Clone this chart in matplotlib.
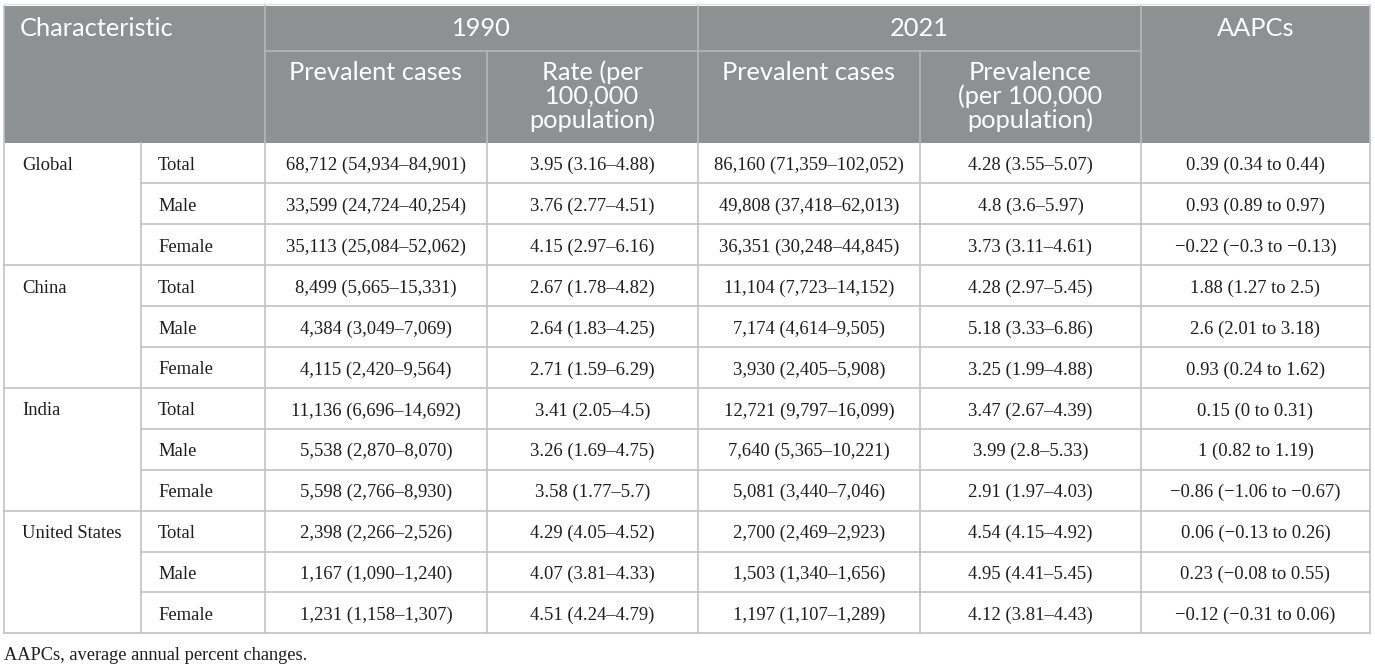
import matplotlib
matplotlib.use("Agg")
import matplotlib.pyplot as plt

countries = ["Global", "China", "India", "United States"]
sexes = ["Total", "Male", "Female"]

cases_1990 = [
    "68,712 (54,934–84,901)", "33,599 (24,724–40,254)", "35,113 (25,084–52,062)",
    "8,499 (5,665–15,331)", "4,384 (3,049–7,069)", "4,115 (2,420–9,564)",
    "11,136 (6,696–14,692)", "5,538 (2,870–8,070)", "5,598 (2,766–8,930)",
    "2,398 (2,266–2,526)", "1,167 (1,090–1,240)", "1,231 (1,158–1,307)",
]
rate_1990 = [
    "3.95 (3.16–4.88)", "3.76 (2.77–4.51)", "4.15 (2.97–6.16)",
    "2.67 (1.78–4.82)", "2.64 (1.83–4.25)", "2.71 (1.59–6.29)",
    "3.41 (2.05–4.5)", "3.26 (1.69–4.75)", "3.58 (1.77–5.7)",
    "4.29 (4.05–4.52)", "4.07 (3.81–4.33)", "4.51 (4.24–4.79)",
]
cases_2021 = [
    "86,160 (71,359–102,052)", "49,808 (37,418–62,013)", "36,351 (30,248–44,845)",
    "11,104 (7,723–14,152)", "7,174 (4,614–9,505)", "3,930 (2,405–5,908)",
    "12,721 (9,797–16,099)", "7,640 (5,365–10,221)", "5,081 (3,440–7,046)",
    "2,700 (2,469–2,923)", "1,503 (1,340–1,656)", "1,197 (1,107–1,289)",
]
prev_2021 = [
    "4.28 (3.55–5.07)", "4.8 (3.6–5.97)", "3.73 (3.11–4.61)",
    "4.28 (2.97–5.45)", "5.18 (3.33–6.86)", "3.25 (1.99–4.88)",
    "3.47 (2.67–4.39)", "3.99 (2.8–5.33)", "2.91 (1.97–4.03)",
    "4.54 (4.15–4.92)", "4.95 (4.41–5.45)", "4.12 (3.81–4.43)",
]
aapcs = [
    "0.39 (0.34 to 0.44)", "0.93 (0.89 to 0.97)", "−0.22 (−0.3 to −0.13)",
    "1.88 (1.27 to 2.5)", "2.6 (2.01 to 3.18)", "0.93 (0.24 to 1.62)",
    "0.15 (0 to 0.31)", "1 (0.82 to 1.19)", "−0.86 (−1.06 to −0.67)",
    "0.06 (−0.13 to 0.26)", "0.23 (−0.08 to 0.55)", "−0.12 (−0.31 to 0.06)",
]
year_headers = ["1990", "2021"]
sub_headers = [["Prevalent cases"],
               ["Rate (per", "100,000", "population)"],
               ["Prevalent cases"],
               ["Prevalence", "(per 100,000", "population)"]]
footnote = "AAPCs, average annual percent changes."

W, H = 1375, 667
fig = plt.figure(figsize=(W / 100, H / 100), dpi=100)
ax = fig.add_axes([0, 0, 1, 1])
ax.set_xlim(0, W)
ax.set_ylim(H, 0)
ax.axis("off")

# layout
xs = [4, 141, 265, 487, 698, 920, 1141, 1370]
top = 6
split = 51
hbot = 142.5
row_h = 40.9
nrows = 12
bottom = hbot + row_h * nrows

HEAD = "#8d9192"
HLINE = "#b5b8b9"
LINE = "#c2c2c2"
TXT = "#1e1e1e"
head_font = ["Lato", "DejaVu Sans"]
body_font = ["Liberation Serif", "DejaVu Serif"]
hs = 18.3
bs = 13.4

# header background
ax.add_patch(plt.Rectangle((xs[0], top), xs[-1] - xs[0], hbot - top,
                           facecolor=HEAD, edgecolor="none", zorder=1))
ax.plot([xs[0], xs[-1]], [3.5, 3.5], color="#e2e2e2", lw=1, zorder=2)
# header lines
for x in [xs[2], xs[4], xs[6]]:
    ax.plot([x, x], [top, hbot], color=HLINE, lw=1.2, zorder=2)
for x in [xs[3], xs[5]]:
    ax.plot([x, x], [split, hbot], color=HLINE, lw=1.2, zorder=2)
ax.plot([xs[2], xs[6]], [split, split], color=HLINE, lw=1.2, zorder=2)

# header text
ax.text(20, 28, "Characteristic", color="white", fontsize=hs, family=head_font,
        ha="left", va="center", zorder=3)
for i, yh in enumerate(year_headers):
    ax.text((xs[2 + 2 * i] + xs[4 + 2 * i]) / 2, 28, yh, color="white", fontsize=hs,
            family=head_font, ha="center", va="center", zorder=3)
ax.text((xs[6] + xs[7]) / 2, 28, "AAPCs", color="white", fontsize=hs,
        family=head_font, ha="center", va="center", zorder=3)
for i, lines in enumerate(sub_headers):
    for j, ln in enumerate(lines):
        ax.text((xs[2 + i] + xs[3 + i]) / 2, 72 + 24 * j, ln, color="white",
                fontsize=hs, family=head_font, ha="center", va="center", zorder=3)

# body lines
for r in range(1, nrows):
    y = hbot + r * row_h
    x0 = xs[0] if r % 3 == 0 else xs[1]
    ax.plot([x0, xs[-1]], [y, y], color=LINE, lw=1.2, zorder=2)
for x in xs[1:-1]:
    ax.plot([x, x], [hbot, bottom], color=LINE, lw=1.2, zorder=2)
ax.plot([xs[0], xs[-1]], [bottom, bottom], color=LINE, lw=1.2, zorder=2)
ax.plot([xs[0], xs[0]], [top, bottom], color=LINE, lw=1.2, zorder=2)
ax.plot([xs[-1], xs[-1]], [top, bottom], color=LINE, lw=1.2, zorder=2)

cols = [cases_1990, rate_1990, cases_2021, prev_2021, aapcs]
for r in range(nrows):
    yc = hbot + (r + 0.5) * row_h + 2.5
    if r % 3 == 0:
        ax.text(22, yc, countries[r // 3], fontsize=bs, family=body_font,
                ha="left", va="center", color=TXT, zorder=3)
    ax.text(158, yc, sexes[r % 3], fontsize=bs, family=body_font,
            ha="left", va="center", color=TXT, zorder=3)
    for c, col in enumerate(cols):
        ax.text((xs[2 + c] + xs[3 + c]) / 2, yc, col[r], fontsize=bs,
                family=body_font, ha="center", va="center", color=TXT, zorder=3)

ax.text(4, 656, footnote, fontsize=13.2, family=body_font, ha="left",
        va="center", color=TXT)

fig.savefig("out.png", dpi=100, facecolor="white")
